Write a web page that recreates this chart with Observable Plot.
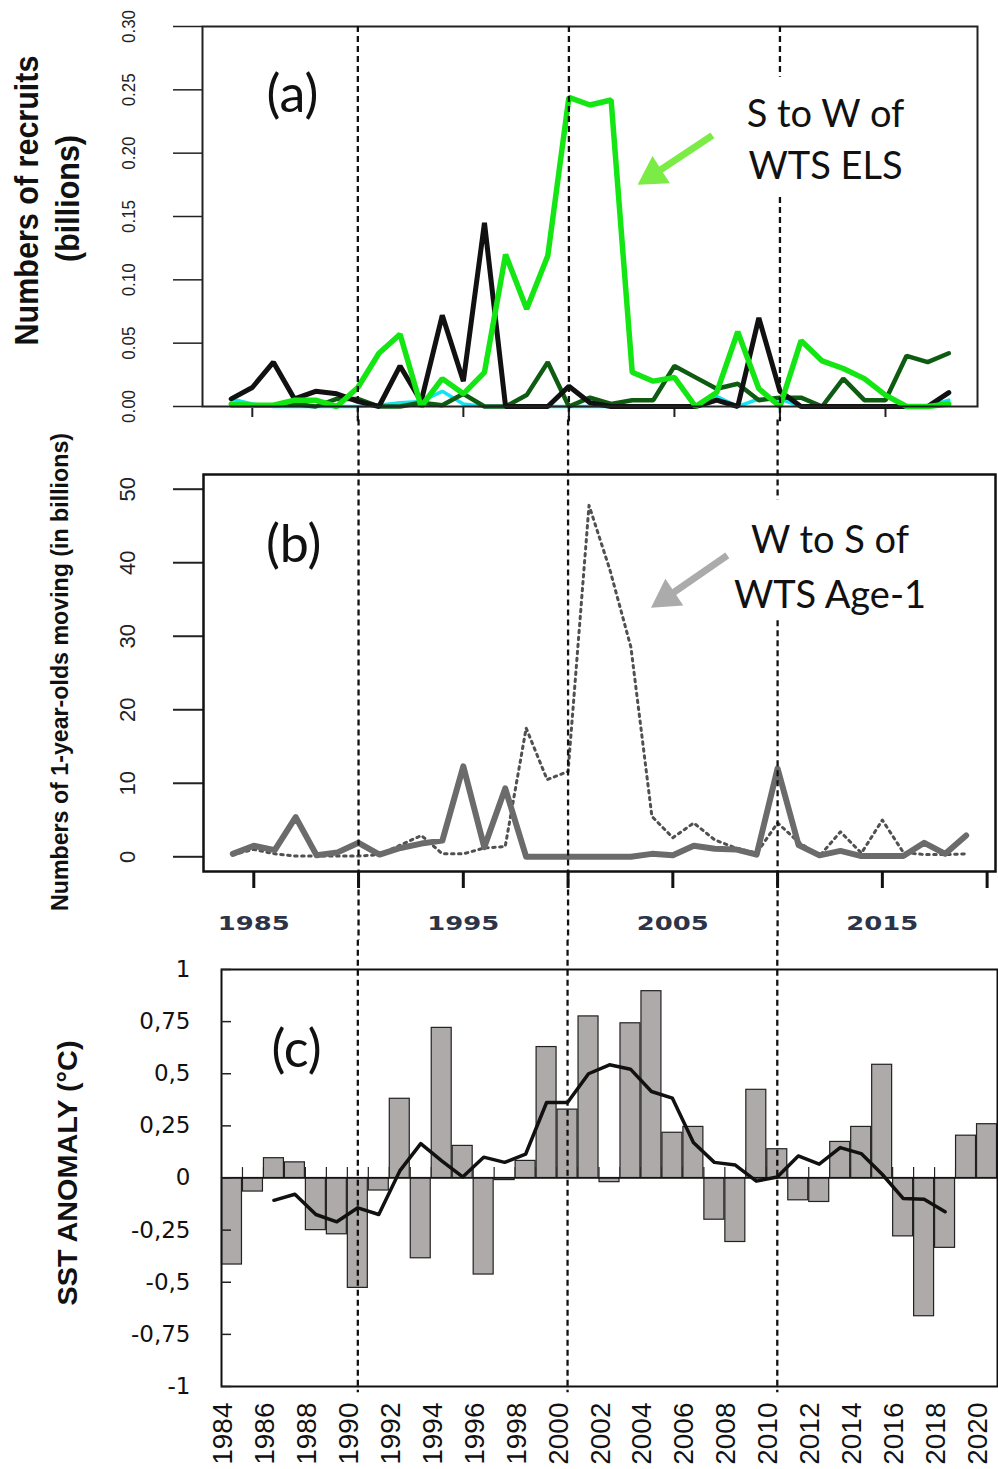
<!DOCTYPE html>
<html><head><meta charset="utf-8">
<script src="https://cdn.jsdelivr.net/npm/d3@7"></script>
<script src="https://cdn.jsdelivr.net/npm/@observablehq/plot@0.6"></script>
<style>
body{margin:0;background:#fff;}
#root{position:relative;width:998px;height:1469px;overflow:hidden;background:#fff;}
#root svg{position:absolute;left:0;}
</style></head><body><div id="root"></div>
<script>
// ---------- DATA ----------
// Panel (a): numbers of recruits (billions), 1984-2018
const yearsA = [1984,1985,1986,1987,1988,1989,1990,1991,1992,1993,1994,1995,1996,1997,1998,1999,2000,2001,2002,2003,2004,2005,2006,2007,2008,2009,2010,2011,2012,2013,2014,2015,2016,2017,2018];
const recruitsBlack = [0.006,0.015,0.035,0.006,0.012,0.010,0.004,0.000,0.032,0.004, 0.072,0.020,0.145,0.000,0.000,0.000,0.016,0.003,0.000,0.000, 0.000,0.000,0.000,0.005,0.000,0.070,0.012,0.000,0.000,0.000, 0.000,0.000,0.000,0.000,0.011];
const recruitsGreen = [0.002,0.001,0.001,0.005,0.005,0.000,0.015,0.042,0.057,0.000, 0.022,0.010,0.027,0.120,0.077,0.119,0.244,0.238,0.242,0.027, 0.020,0.023,0.000,0.011,0.059,0.014,0.000,0.052,0.036,0.030, 0.022,0.009,0.000,0.000,0.002];
const recruitsDarkGreen = [0.001,0.001,0.001,0.002,0.000,0.006,0.006,0.000,0.000,0.003, 0.001,0.010,0.000,0.000,0.009,0.035,0.000,0.007,0.002,0.005, 0.005,0.032,0.023,0.014,0.018,0.005,0.007,0.007,0.000,0.022, 0.005,0.005,0.040,0.035,0.042];
const recruitsCyan = [0.006,0.002,0,0,0,0,0,0.001,0.003,0.004, 0.012,0.002,0,0,0,0,0,0,0,0, 0,0,0,0.008,0,0.006,0.006,0,0,0, 0,0,0,0,0.005];
const yTicksA = [0, 0.05, 0.10, 0.15, 0.20, 0.25, 0.30];
const yTickLabelsA = ["0.00","0.05","0.10","0.15","0.20","0.25","0.30"];
const xTicksA = [1985,1990,1995,2000,2005,2010,2015];
const titleA1 = "Numbers of recruits";
const titleA2 = "(billions)";
const tagA = [{text:"(a)", year:1986.9, value:0.2455}];
const noteA = [{text:"S to W of\nWTS ELS", year:2012.16, value:0.213}];
const arrowA = [{year1:2006.8, value1:0.214, year2:2004.0, value2:0.183}];
const dashA = [{year:1990, from:0.3, to:-0.012},{year:2000, from:0.3, to:-0.012},{year:2010, from:0.3, to:0.26},{year:2010, from:0.165, to:-0.012}];

// Panel (b): numbers of 1-year-olds moving (billions), 1984-2019
const yearsB = [1984,1985,1986,1987,1988,1989,1990,1991,1992,1993,1994,1995,1996,1997,1998,1999,2000,2001,2002,2003,2004,2005,2006,2007,2008,2009,2010,2011,2012,2013,2014,2015,2016,2017,2018,2019];
const movingSolid = [0.4,1.5,0.9,5.4,0.2,0.6,1.9,0.3,1.2,1.8, 2.2,12.3,1.3,9.3,0,0,0,0,0,0, 0.4,0.2,1.5,1.1,1.0,0.3,12.0,1.6,0.2,0.8, 0.1,0.1,0.1,1.9,0.4,2.9];
const movingDotted = [0.3,1.0,0.4,0.1,0.1,0.1,0.1,0.3,1.6,2.9, 0.4,0.4,1.2,1.4,17.5,10.5,11.6,47.8,39.0,28.5, 5.5,2.6,4.6,2.3,1.2,0.5,4.6,2.0,0.1,3.4, 0.5,5.0,0.6,0.3,0.3,0.4];
const yTicksB = [0,10,20,30,40,50];
const yTickLabelsB = ["0","10","20","30","40","50"];
const xTicksB = [1985,1990,1995,2000,2005,2010,2015,2020];
const xLabelYearsB = [1985,1995,2005,2015];
const titleB = "Numbers of 1-year-olds moving (in billions)";
const tagB = [{text:"(b)", year:1986.9, value:42.4}];
const noteB = [{text:"W to S of\nWTS Age-1", year:2012.5, value:40.0}];
const arrowB = [{year1:2007.6, value1:41.0, year2:2004.7, value2:35.3}];
const dashB = [{year:1990, from:59.4, to:-11.4},{year:2000, from:59.4, to:-11.4},{year:2010, from:59.4, to:48.5},{year:2010, from:32.1, to:-11.4}];

// Panel (c): SST anomaly (°C), 1984-2020
const yearsC = [1984,1985,1986,1987,1988,1989,1990,1991,1992,1993,1994,1995,1996,1997,1998,1999,2000,2001,2002,2003,2004,2005,2006,2007,2008,2009,2010,2011,2012,2013,2014,2015,2016,2017,2018,2019,2020];
const sst = [-0.415,-0.065,0.095,0.075,-0.25,-0.27,-0.527,-0.06,0.38,-0.385, 0.72,0.154,-0.463,-0.01,0.082,0.628,0.328,0.775,-0.02,0.742, 0.896,0.217,0.245,-0.2,-0.307,0.423,0.138,-0.107,-0.115,0.173, 0.245,0.543,-0.28,-0.663,-0.335,0.203,0.258];
const yearsMA = [1986,1987,1988,1989,1990,1991,1992,1993,1994,1995,1996,1997,1998,1999,2000,2001,2002,2003,2004,2005,2006,2007,2008,2009,2010,2011,2012,2013,2014,2015,2016,2017,2018];
const sstMA = [-0.107,-0.078,-0.175,-0.21,-0.143,-0.175,0.034,0.165,0.082,0.005, 0.1,0.075,0.114,0.362,0.362,0.5,0.543,0.522,0.415,0.383, 0.17,0.075,0.062,-0.015,0.005,0.106,0.066,0.146,0.117,0.018, -0.098,-0.102,-0.162];
const yTicksC = [1,0.75,0.5,0.25,0,-0.25,-0.5,-0.75,-1];
const yTickLabelsC = ["1","0,75","0,5","0,25","0","-0,25","-0,5","-0,75","-1"];
const xLabelYearsC = [1984,1986,1988,1990,1992,1994,1996,1998,2000,2002,2004,2006,2008,2010,2012,2014,2016,2018,2020];
const titleC = "SST ANOMALY (°C)";
const tagC = [{text:"(c)", year:1987.08, value:0.61}];
const dashC = [{year:1990, from:1.14, to:-1.03},{year:2000, from:1.14, to:-1.03},{year:2010, from:1.14, to:-1.03}];

// ---------- STYLE ----------
const SANS = '"Liberation Sans",Arial,sans-serif';
const LATO = 'Lato,"Open Sans",sans-serif';
const root = document.getElementById("root");
const idx = (arr) => (d, i) => arr[i];
function squeeze(svg, matcher, len) {
  d3.select(svg).selectAll("text").filter(function () { return matcher(this.textContent); })
    .attr("textLength", len)
    .attr("lengthAdjust", "spacingAndGlyphs");
}

// ---------- PANEL A ----------
const plotA = Plot.plot({
  width: 998, height: 440,
  marginLeft: 202, marginRight: 21, marginTop: 26, marginBottom: 34,
  x: {domain: [1982.64, 2019.36], label: null},
  y: {domain: [0, 0.3], label: null},
  style: {background: "transparent"},
  marks: [
    Plot.axisY({ticks: yTicksA, tickSize: 29, tickFormat: () => "", strokeWidth: 1.5, stroke: "#222", label: null}),
    Plot.axisX({ticks: xTicksA, tickSize: 11, tickFormat: () => "", strokeWidth: 2, stroke: "#222", label: null}),
    Plot.text(yTicksA, {y: d => d, frameAnchor: "left", textAnchor: "middle", dx: -74, rotate: -90, text: idx(yTickLabelsA), fontFamily: SANS, fontSize: 19, fill: "#222"}),
    Plot.text([titleA1], {frameAnchor: "left", textAnchor: "middle", dx: -175, dy: -16, rotate: -90, text: d => d, fontFamily: SANS, fontWeight: "bold", fontSize: 33, fill: "#111"}),
    Plot.text([titleA2], {frameAnchor: "left", textAnchor: "middle", dx: -134, dy: -18, rotate: -90, text: d => d, fontFamily: SANS, fontWeight: "bold", fontSize: 33, fill: "#111"}),
    Plot.line(yearsA, {x: d => d, y: idx(recruitsCyan), stroke: "#15e3f2", strokeWidth: 3.5, strokeLinejoin: "miter"}),
    Plot.line(yearsA, {x: d => d, y: idx(recruitsDarkGreen), stroke: "#0e5c12", strokeWidth: 4.5, strokeLinejoin: "miter"}),
    Plot.line(yearsA, {x: d => d, y: idx(recruitsBlack), stroke: "#111", strokeWidth: 5, strokeLinejoin: "miter"}),
    Plot.line(yearsA, {x: d => d, y: idx(recruitsGreen), stroke: "#14e614", strokeWidth: 5.5, strokeLinejoin: "miter"}),
    Plot.frame({stroke: "#222", strokeWidth: 2}),
    Plot.text(tagA, {x: "year", y: "value", text: "text", fontFamily: LATO, fontSize: 52, fill: "#111"}),
    Plot.text(noteA, {x: "year", y: "value", text: "text", fontFamily: LATO, fontSize: 38, lineHeight: 1.37, fill: "#111"}),
    Plot.link(arrowA, {x1: "year1", y1: "value1", x2: "year2", y2: "value2", stroke: "#7bec45", strokeWidth: 7}),
    Plot.dot(arrowA, {x: "year2", y: "value2", symbol: "triangle", r: 12, fill: "#7bec45", stroke: "none", rotate: -122.6}),
    Plot.ruleX(dashA, {x: "year", y1: "from", y2: "to", stroke: "#111", strokeWidth: 2.3, strokeDasharray: "6,4"})
  ]
});
plotA.style.top = "0px";
root.appendChild(plotA);
squeeze(plotA, t => yTickLabelsA.includes(t), 33);
squeeze(plotA, t => t === titleA1, 290);
squeeze(plotA, t => t === titleA2, 127);

// ---------- PANEL B ----------
const plotB = Plot.plot({
  width: 998, height: 620,
  marginLeft: 203, marginRight: 3, marginTop: 114, marginBottom: 109,
  x: {domain: [1982.6, 2020.4], label: null},
  y: {domain: [-2, 52], label: null},
  style: {background: "transparent"},
  marks: [
    Plot.axisY({ticks: yTicksB, tickSize: 30, tickFormat: () => "", strokeWidth: 2, stroke: "#222", label: null}),
    Plot.axisX({ticks: xTicksB, tickSize: 17, tickFormat: () => "", strokeWidth: 3, stroke: "#111", label: null}),
    Plot.text(yTicksB, {y: d => d, frameAnchor: "left", textAnchor: "middle", dx: -76, rotate: -90, text: idx(yTickLabelsB), fontFamily: SANS, fontSize: 22, fill: "#222"}),
    Plot.text(xLabelYearsB, {x: d => d, frameAnchor: "bottom", dy: 58, text: d => String(d), fontFamily: "DejaVu Sans", fontWeight: "bold", fontSize: 19, fill: "#2e3447"}),
    Plot.text([titleB], {frameAnchor: "left", textAnchor: "middle", dx: -143, dy: -1, rotate: -90, text: d => d, fontFamily: SANS, fontWeight: "bold", fontSize: 24, fill: "#111"}),
    Plot.line(yearsB, {x: d => d, y: idx(movingDotted), stroke: "#505050", strokeWidth: 3, strokeDasharray: "2.5,4.5"}),
    Plot.line(yearsB, {x: d => d, y: idx(movingSolid), stroke: "#6b6b6b", strokeWidth: 6}),
    Plot.frame({stroke: "#111", strokeWidth: 2.5}),
    Plot.text(tagB, {x: "year", y: "value", text: "text", fontFamily: LATO, fontSize: 52, fill: "#111"}),
    Plot.text(noteB, {x: "year", y: "value", text: "text", fontFamily: LATO, fontSize: 38, lineHeight: 1.45, fill: "#111"}),
    Plot.link(arrowB, {x1: "year1", y1: "value1", x2: "year2", y2: "value2", stroke: "#ababab", strokeWidth: 7}),
    Plot.dot(arrowB, {x: "year2", y: "value2", symbol: "triangle", r: 12, fill: "#ababab", stroke: "none", rotate: -123.7}),
    Plot.ruleX(dashB, {x: "year", y1: "from", y2: "to", stroke: "#111", strokeWidth: 2.3, strokeDasharray: "6,4"})
  ]
});
plotB.style.top = "360px";
root.appendChild(plotB);
squeeze(plotB, t => xLabelYearsB.map(String).includes(t), 72);
squeeze(plotB, t => t === titleB, 478);

// ---------- PANEL C ----------
const boundaries = yearsC.slice(1).map(y => y - 0.5);
const plotC = Plot.plot({
  width: 998, height: 529,
  marginLeft: 221, marginRight: 1, marginTop: 29, marginBottom: 83,
  x: {domain: [1983.5, 2020.5], label: null, axis: null},
  y: {domain: [-1, 1], label: null},
  style: {background: "transparent"},
  marks: [
    Plot.ruleX(boundaries, {x: d => d, y1: 0, y2: 0.05, stroke: "#222", strokeWidth: 1.2}),
    Plot.rect(yearsC, {x1: d => d - 0.5, x2: d => d + 0.5, y1: 0, y2: idx(sst), insetLeft: 0.5, insetRight: 0.5, fill: "#aeaaa9", stroke: "#222", strokeWidth: 1.2}),
    Plot.ruleY([0], {stroke: "#111", strokeWidth: 1.5}),
    Plot.line(yearsMA, {x: d => d, y: idx(sstMA), stroke: "#111", strokeWidth: 3.5}),
    Plot.frame({stroke: "#111", strokeWidth: 2}),
    Plot.axisY({ticks: yTicksC, tickSize: -10, tickFormat: () => "", strokeWidth: 1.5, stroke: "#222", label: null}),
    Plot.text(yTicksC, {y: d => d, frameAnchor: "left", dx: -31, textAnchor: "end", text: idx(yTickLabelsC), fontFamily: "DejaVu Sans", fontSize: 23, fill: "#111"}),
    Plot.text(xLabelYearsC, {x: d => d, frameAnchor: "bottom", dy: 16, rotate: -90, textAnchor: "end", text: d => String(d), fontFamily: SANS, fontSize: 28, fill: "#111"}),
    Plot.text([titleC], {frameAnchor: "left", textAnchor: "middle", dx: -153, dy: -5, rotate: -90, text: d => d, fontFamily: SANS, fontWeight: "bold", fontSize: 28, fill: "#111"}),
    Plot.text(tagC, {x: "year", y: "value", text: "text", fontFamily: LATO, fontSize: 52, fill: "#111"}),
    Plot.ruleX(dashC, {x: "year", y1: "from", y2: "to", stroke: "#111", strokeWidth: 2.3, strokeDasharray: "6,4"})
  ]
});
plotC.style.top = "940px";
root.appendChild(plotC);
squeeze(plotC, t => t === titleC, 265);
</script>
</body></html>
